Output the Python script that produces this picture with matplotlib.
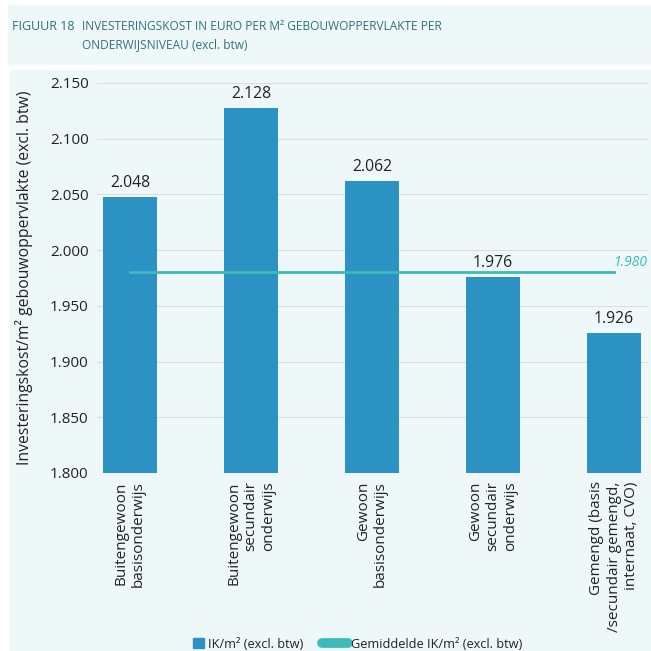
import matplotlib.pyplot as plt
from matplotlib.patches import Rectangle
from matplotlib.lines import Line2D

categories = ["Buitengewoon\nbasisonderwijs",
              "Buitengewoon\nsecundair\nonderwijs",
              "Gewoon\nbasisonderwijs",
              "Gewoon\nsecundair\nonderwijs",
              "Gemengd (basis\n/secundair gemengd,\ninternaat, CVO)"]
values = [2048, 2128, 2062, 1976, 1926]
average = 1980
yticks = [1800, 1850, 1900, 1950, 2000, 2050, 2100, 2150]

bar_color = "#2b92c3"
avg_color = "#3dbab9"
bg = "#eff8f8"
txt = "#222222"

plt.rcParams['font.family'] = ['Open Sans', 'DejaVu Sans']

fig = plt.figure(figsize=(6.51, 6.51), dpi=100)
W, H = 651, 651
# title band and panel
fig.patches.append(Rectangle((8 / W, 1 - 64 / H), 1, 59 / H, transform=fig.transFigure,
                             color=bg, zorder=-10))
fig.patches.append(Rectangle((10 / W, 0), 1, 1 - 70 / H, transform=fig.transFigure,
                             color=bg, zorder=-10))
title_col = "#33707a"
fig.text(12 / W, 1 - 26 / H, "FIGUUR 18", fontsize=9, color=title_col, va='center')
fig.text(82 / W, 1 - 26 / H, "INVESTERINGSKOST IN EURO PER M² GEBOUWOPPERVLAKTE PER",
         fontsize=8.6, color=title_col, va='center')
fig.text(82 / W, 1 - 45 / H, "ONDERWIJSNIVEAU (excl. btw)", fontsize=8.6,
         color=title_col, va='center')

ax = fig.add_axes([97 / W, 1 - 473 / H, (648 - 97) / W, 390 / H])
ax.set_facecolor('none')
x = list(range(len(values)))
ax.bar(x, [v - 1800 for v in values], bottom=1800, width=0.44, color=bar_color, zorder=2)
for xi, v in zip(x, values):
    ax.text(xi, v + 5, f"{v/1000:.3f}", ha='center', va='bottom', fontsize=11.3, color=txt)
ax.plot([0, 4], [average, average], color=avg_color, lw=2, zorder=3)
ax.text(4.28, average + 2, f"{average/1000:.3f}", ha='right', va='bottom', fontsize=10,
        color=avg_color, style='italic')

ax.set_xlim(-0.273, 4.28)
ax.set_ylim(1800, 2150)
ax.set_yticks(yticks)
ax.set_yticklabels([f"{t/1000:.3f}" for t in yticks], fontsize=11, color=txt)
ax.grid(axis='y', color='#dddddd', lw=0.8, zorder=0)
ax.set_xticks(x)
ax.set_xticklabels(categories, rotation=90, fontsize=11, color=txt, va='top',
                   ha='center', multialignment='right')
ax.tick_params(length=0, pad=6)
for s in ax.spines.values():
    s.set_visible(False)
ax.set_ylabel("Investeringskost/m² gebouwoppervlakte (excl. btw)", fontsize=11.3,
              color=txt, labelpad=12)

# two legends so each handle gets its own length
leg1 = fig.legend([Rectangle((0, 0), 1, 1, color=bar_color)], ["IK/m² (excl. btw)"],
                  loc='center left', bbox_to_anchor=(193 / W, 1 - 644 / H), frameon=False,
                  fontsize=9.2, handlelength=0.85, handleheight=0.85, handletextpad=0.3,
                  borderpad=0, borderaxespad=0, labelcolor=txt)
fig.legend([Line2D([0], [0], color=avg_color, lw=7, solid_capstyle='round')],
           ["Gemiddelde IK/m² (excl. btw)"],
           loc='center left', bbox_to_anchor=(322 / W, 1 - 644 / H), frameon=False,
           fontsize=9.2, handlelength=2.0, handletextpad=0.3,
           borderpad=0, borderaxespad=0, labelcolor=txt)

fig.savefig("out.png", dpi=100)
